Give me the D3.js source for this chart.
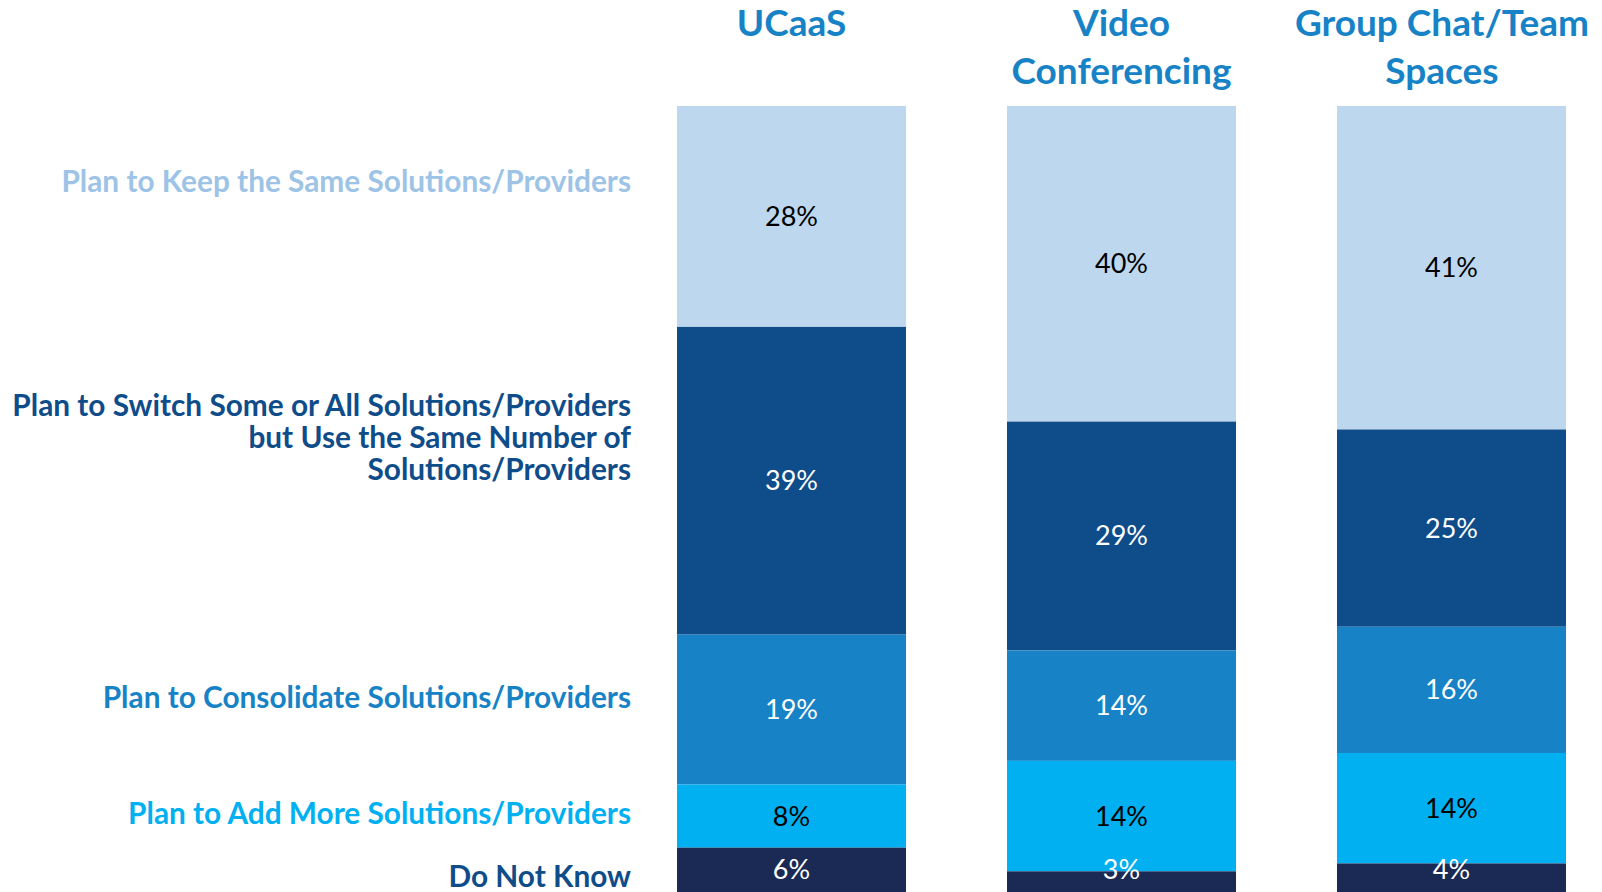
<!DOCTYPE html>
<html>
<head>
<meta charset="utf-8">
<script src="https://cdn.jsdelivr.net/npm/d3@7/dist/d3.min.js"></script>
<style>
  html, body { margin: 0; padding: 0; background: #fff; }
  svg { display: block; overflow: hidden; }
</style>
</head>
<body>
<div id="chart"></div>
<script>
// categories (columns) and answer groups (stack order, top to bottom)
var categories = ['UCaaS', 'Video Conferencing', 'Group Chat/Team Spaces'];
var headerLines = [['UCaaS'], ['Video', 'Conferencing'], ['Group Chat/Team', 'Spaces']];
var answers = ['keep', 'switch', 'consolidate', 'add', 'dontknow'];
var answerLabels = [
  ['Plan to Keep the Same Solutions/Providers'],
  ['Plan to Switch Some or All Solutions/Providers', 'but Use the Same Number of', 'Solutions/Providers'],
  ['Plan to Consolidate Solutions/Providers'],
  ['Plan to Add More Solutions/Providers'],
  ['Do Not Know']
];
// percent values per answer, in category order
var keepVals = [28, 40, 41];
var switchVals = [39, 29, 25];
var consolidateVals = [19, 14, 16];
var addVals = [8, 14, 14];
var dontKnowVals = [6, 3, 4];

var W = 1602, H = 892;
var fills = ['#BDD7EE', '#0F4C8A', '#1783C6', '#00B0F0', '#1B2A55'];
var labelColors = ['#9DC3E6', '#0F4C8A', '#1783C6', '#00B0F0', '#0F4C8A'];
var valueColors = ['#000', '#fff', '#fff', '#000', '#fff'];
var labelY = [182, 406, 698, 814, 877]; // vertical anchor of the left-hand labels
var font = 'Lato, "Open Sans", sans-serif';

var rows = categories.map(function(c, i) {
  return {cat: c, keep: keepVals[i], 'switch': switchVals[i], consolidate: consolidateVals[i],
          add: addVals[i], dontknow: dontKnowVals[i]};
});
var series = d3.stack().keys(answers)(rows);

var svg = d3.select('#chart').append('svg')
  .attr('width', W)
  .attr('height', H);

var x = d3.scaleBand().domain(categories).range([677, 1566]).paddingInner(0.306).paddingOuter(0);
var y = d3.scaleLinear().domain([0, 100]).range([106, 895]);

var groups = svg.selectAll('g.series')
  .data(series)
  .enter().append('g')
  .attr('class', 'series')
  .attr('fill', function(d, i) { return fills[i]; });

groups.selectAll('rect')
  .data(function(d) { return d; })
  .enter().append('rect')
  .attr('x', function(d) { return x(d.data.cat); })
  .attr('width', x.bandwidth())
  .attr('y', function(d) { return y(d[0]); })
  .attr('height', function(d) { return y(d[1]) - y(d[0]); });

// value labels in each segment
groups.each(function(s, i) {
  d3.select(this).selectAll('text')
    .data(s)
    .enter().append('text')
    .attr('x', function(d) { return x(d.data.cat) + x.bandwidth() / 2; })
    .attr('y', function(d) { return Math.min((y(d[0]) + y(d[1])) / 2, H - 22); })
    .attr('dy', '0.35em')
    .attr('text-anchor', 'middle')
    .style('font-family', font)
    .style('font-size', '27px')
    .style('fill', valueColors[i])
    .text(function(d) { return (d[1] - d[0]) + '%'; });
});

// column headers (kept inside the right edge)
categories.forEach(function(c, i) {
  var lines = headerLines[i];
  var t = svg.append('text')
    .attr('text-anchor', 'middle')
    .style('font-family', font)
    .style('font-weight', 'bold')
    .style('font-size', '37px')
    .style('fill', '#1783C6');
  var spans = lines.map(function(l, k) {
    return t.append('tspan')
      .attr('y', 23 + k * 48)
      .attr('dy', '0.35em')
      .text(l);
  });
  var widest = d3.max(spans, function(s) { return s.node().getComputedTextLength(); });
  var cx = Math.min(x(c) + x.bandwidth() / 2, W - 13 - widest / 2);
  spans.forEach(function(s) { s.attr('x', cx); });
});

// left-hand answer labels
answerLabels.forEach(function(lines, i) {
  var t = svg.append('text')
    .attr('text-anchor', 'end')
    .style('font-family', font)
    .style('font-weight', 'bold')
    .style('font-size', '29.8px')
    .style('fill', labelColors[i]);
  lines.forEach(function(l, k) {
    t.append('tspan')
      .attr('x', 631)
      .attr('y', labelY[i] + k * 32)
      .attr('dy', '0.35em')
      .text(l);
  });
});
</script>
</body>
</html>
